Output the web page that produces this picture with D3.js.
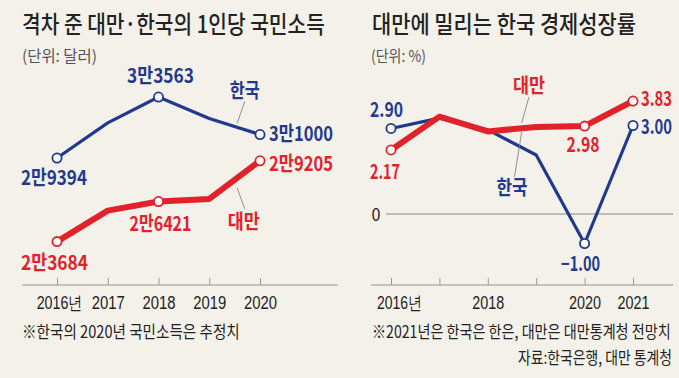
<!DOCTYPE html>
<html><head><meta charset="utf-8">
<script src="https://cdn.jsdelivr.net/npm/d3@7"></script>
<style>
html,body{margin:0;padding:0;background:#f4f1ea;}
svg{display:block;font-family:"Noto Sans CJK KR","Noto Sans",sans-serif;}
</style></head>
<body><svg id="c" width="679" height="378"></svg>
<script>
// ---- data ----
const incomeYears = [2016, 2017, 2018, 2019, 2020];
const koreaIncome = [29394, 31800, 33563, 32100, 31000];
const taiwanIncome = [23684, 25800, 26421, 26600, 29205];
const incomeMarked = [0, 2, 4];

const growthYears = [2016, 2017, 2018, 2019, 2020, 2021];
const koreaGrowth = [2.90, 3.25, 2.85, 2.0, -1.00, 3.00];
const taiwanGrowth = [2.17, 3.30, 2.80, 2.95, 2.98, 3.83];
const growthMarked = [0, 4, 5];
const growthTickLabels = {2016: "2016년", 2018: "2018", 2020: "2020", 2021: "2021"};

const titles = ["격차 준 대만·한국의 1인당 국민소득", "대만에 밀리는 한국 경제성장률"];
const units = ["(단위: 달러)", "(단위: %)"];
const notes = ["※한국의 2020년 국민소득은 추정치", "※2021년은 한국은 한은, 대만은 대만통계청 전망치", "자료:한국은행, 대만 통계청"];

const BLUE = "#1f3a8c", RED = "#e1222b", TXT = "#222";
const svg = d3.select("#c");
// horizontally condense a text to a target width (keeps font height)
function squeeze(t, w, x, y) {
  const w0 = t.node().getComputedTextLength();
  const k = w0 > 0 ? w / w0 : 1;
  t.attr("x", 0).attr("y", 0).attr("transform", `translate(${x},${y}) scale(${k},1)`);
  return k;
}
function txt(x, y, s, o) {
  o = o || {};
  const t = svg.append("text").text(s)
    .attr("font-size", o.size || 18).attr("font-weight", o.weight || 400)
    .attr("fill", o.color || TXT).attr("text-anchor", o.anchor || "start");
  if (o.w) squeeze(t, o.w, x, y); else t.attr("x", x).attr("y", y);
  return t;
}

// titles
txt(22, 33, titles[0], {size: 24, weight: 500, w: 303});
txt(372, 33, titles[1], {size: 24, weight: 500, w: 264});
txt(22, 62, units[0], {size: 16, color: "#555", w: 75});
txt(371, 62, units[1], {size: 16, color: "#555", w: 55});

function styleTicks(ax, widthOf, dxOf) {
  ax.select(".domain").remove();
  ax.selectAll(".tick line").attr("stroke", "#999");
  ax.selectAll(".tick text").attr("font-size", 18).attr("fill", TXT).attr("font-family", null)
    .each(function(d) {
      const w = widthOf(d);
      if (!w) return;
      const t = d3.select(this);
      const k = w / this.getComputedTextLength();
      t.attr("transform", `scale(${k},1)`).attr("dx", (dxOf(d) / k) + "px");
    });
}

// ---- left chart ----
const xL = d3.scaleLinear().domain([2016, 2020]).range([57, 260]);
const yL = d3.scaleLinear().domain([20000, 35000]).range([295.5, 76]);

svg.append("line").attr("x1", 22).attr("x2", 338).attr("y1", 285).attr("y2", 285)
  .attr("stroke", "#b5b2ab").attr("stroke-width", 1.5);
const axL = svg.append("g").attr("transform", "translate(0,285)")
  .call(d3.axisBottom(xL).tickValues(incomeYears).tickSizeInner(-7).tickSizeOuter(0).tickPadding(11)
    .tickFormat(d => d === 2016 ? "2016년" : String(d)));
styleTicks(axL, d => d === 2016 ? 46 : 33, d => d === 2016 ? 2 : 0);

const lineL = d3.line().x((d, i) => xL(incomeYears[i])).y(d => yL(d));
svg.append("path").datum(koreaIncome).attr("d", lineL).attr("fill", "none")
  .attr("stroke", BLUE).attr("stroke-width", 3.2).attr("stroke-linejoin", "round");
svg.append("path").datum(taiwanIncome).attr("d", lineL).attr("fill", "none")
  .attr("stroke", RED).attr("stroke-width", 6).attr("stroke-linejoin", "round");

function man(v) { return Math.floor(v / 10000) + "만" + (v % 10000); }
[[koreaIncome, BLUE], [taiwanIncome, RED]].forEach(([arr, col]) => {
  incomeMarked.forEach(i => {
    svg.append("circle").attr("cx", xL(incomeYears[i])).attr("cy", yL(arr[i])).attr("r", 4.6)
      .attr("fill", "#fff").attr("stroke", col).attr("stroke-width", 1.8);
  });
});
const lblL = [
  [koreaIncome, 0, BLUE, -3, 27, "middle", 66],
  [koreaIncome, 2, BLUE, 2, -14, "middle", 67],
  [koreaIncome, 4, BLUE, 9, 6, "start", 64],
  [taiwanIncome, 0, RED, -2.5, 28, "middle", 67],
  [taiwanIncome, 2, RED, 2, 29, "middle", 62],
  [taiwanIncome, 4, RED, 9, 10, "start", 64]
];
lblL.forEach(([arr, i, col, dx, dy, anc, w]) => {
  txt(xL(incomeYears[i]) + dx, yL(arr[i]) + dy, man(arr[i]), {size: 20, weight: 700, color: col, anchor: anc, w: w});
});
txt(xL(2019.7), yL(koreaIncome[3]) - 20, "한국", {size: 20, weight: 700, color: BLUE, anchor: "middle", w: 30});
svg.append("line").attr("x1", xL(2019.7)).attr("y1", yL(koreaIncome[3]) - 17)
  .attr("x2", xL(2019.55)).attr("y2", yL(koreaIncome[3]) + 5).attr("stroke", "#777").attr("stroke-width", 0.8);
txt(xL(2019.7) - 1, yL(taiwanIncome[3]) + 30, "대만", {size: 20, weight: 700, color: RED, anchor: "middle", w: 32});
svg.append("line").attr("x1", xL(2019.55)).attr("y1", yL(taiwanIncome[3]) - 11)
  .attr("x2", xL(2019.7)).attr("y2", yL(taiwanIncome[3]) + 10).attr("stroke", "#777").attr("stroke-width", 0.8);

txt(22, 338, notes[0], {size: 17, w: 218});

// ---- right chart ----
const xR = d3.scaleLinear().domain([2016, 2021]).range([391, 633]);
const yR = d3.scaleLinear().domain([-2, 5]).range([273, 66.5]);

svg.append("line").attr("x1", 371).attr("x2", 673).attr("y1", 285).attr("y2", 285)
  .attr("stroke", "#b5b2ab").attr("stroke-width", 1.5);
const axR = svg.append("g").attr("transform", "translate(0,285)")
  .call(d3.axisBottom(xR).tickValues(growthYears).tickSizeInner(-7).tickSizeOuter(0).tickPadding(11)
    .tickFormat(d => growthTickLabels[d] || ""));
styleTicks(axR, d => growthTickLabels[d] ? (d === 2016 ? 45 : 32) : 0, d => d === 2016 ? 8 : 0);

svg.append("line").attr("x1", 386).attr("x2", 673).attr("y1", yR(0)).attr("y2", yR(0))
  .attr("stroke", "#888").attr("stroke-width", 1);
txt(376, yR(0) + 7, "0", {size: 18, anchor: "middle", w: 9});

const lineR = d3.line().x((d, i) => xR(growthYears[i])).y(d => yR(d));
svg.append("path").datum(koreaGrowth).attr("d", lineR).attr("fill", "none")
  .attr("stroke", BLUE).attr("stroke-width", 3.2).attr("stroke-linejoin", "round");
svg.append("path").datum(taiwanGrowth).attr("d", lineR).attr("fill", "none")
  .attr("stroke", RED).attr("stroke-width", 6).attr("stroke-linejoin", "round");
[[koreaGrowth, BLUE], [taiwanGrowth, RED]].forEach(([arr, col]) => {
  growthMarked.forEach(i => {
    svg.append("circle").attr("cx", xR(growthYears[i])).attr("cy", yR(arr[i])).attr("r", 4.6)
      .attr("fill", "#fff").attr("stroke", col).attr("stroke-width", 1.8);
  });
});
const f2 = d3.format(".2f");
const lblR = [
  [koreaGrowth, 0, BLUE, -4.5, -11, "middle", 33],
  [koreaGrowth, 4, BLUE, -4, 27, "middle", 39],
  [koreaGrowth, 5, BLUE, 8, 8, "start", 31],
  [taiwanGrowth, 0, RED, -6, 29, "middle", 30],
  [taiwanGrowth, 4, RED, -1.5, 26, "middle", 33],
  [taiwanGrowth, 5, RED, 8, 5, "start", 31]
];
lblR.forEach(([arr, i, col, dx, dy, anc, w]) => {
  txt(xR(growthYears[i]) + dx, yR(arr[i]) + dy, f2(arr[i]), {size: 20, weight: 700, color: col, anchor: anc, w: w});
});
txt(xR(2018.85), yR(taiwanGrowth[3]) - 34, "대만", {size: 20, weight: 700, color: RED, anchor: "middle", w: 32});
svg.append("line").attr("x1", xR(2018.85)).attr("y1", yR(taiwanGrowth[3]) - 30)
  .attr("x2", xR(2018.7)).attr("y2", yR(taiwanGrowth[3]) - 4).attr("stroke", "#777").attr("stroke-width", 0.8);
txt(xR(2018.5), yR(koreaGrowth[3]) + 40, "한국", {size: 20, weight: 700, color: BLUE, anchor: "middle", w: 31});
svg.append("line").attr("x1", xR(2018.7)).attr("y1", yR(taiwanGrowth[3]) + 5)
  .attr("x2", xR(2018.55)).attr("y2", yR(koreaGrowth[3]) + 22).attr("stroke", "#777").attr("stroke-width", 0.8);

txt(372, 338, notes[1], {size: 17, w: 299});
txt(672, 364, notes[2], {size: 17, anchor: "end", w: 154});
</script></body></html>
